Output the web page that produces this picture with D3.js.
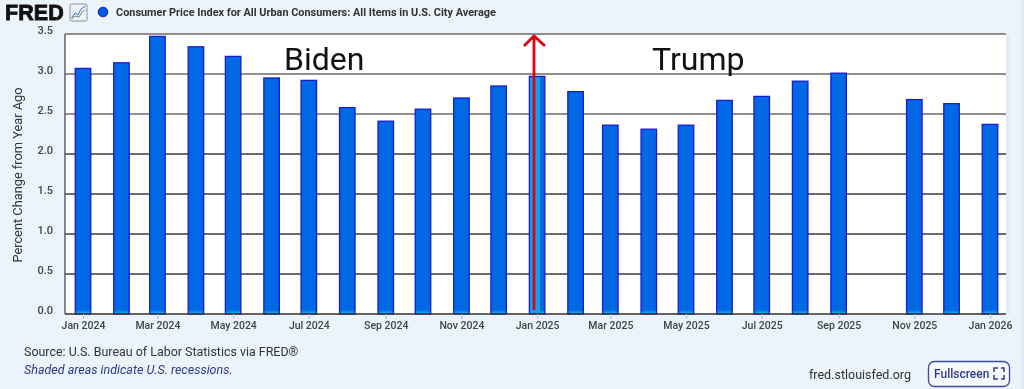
<!DOCTYPE html>
<html><head><meta charset="utf-8">
<script src="https://cdn.jsdelivr.net/npm/d3@7/dist/d3.min.js"></script>
<style>
html,body{margin:0;padding:0;background:#ebf3fb;overflow:hidden}
svg{display:block;font-family:Roboto,sans-serif;filter:blur(0.35px)}
</style></head><body><svg id="c" width="1024" height="389"></svg>
<script>
const months=["2024-01","2024-02","2024-03","2024-04","2024-05","2024-06","2024-07","2024-08","2024-09","2024-10","2024-11","2024-12","2025-01","2025-02","2025-03","2025-04","2025-05","2025-06","2025-07","2025-08","2025-09","2025-10","2025-11","2025-12","2026-01"];
const values=[3.07,3.14,3.47,3.34,3.22,2.95,2.92,2.58,2.41,2.56,2.70,2.85,2.97,2.78,2.36,2.31,2.36,2.67,2.72,2.91,3.01,null,2.68,2.63,2.37];
const yTicks=[0,0.5,1,1.5,2,2.5,3,3.5];
const xTickMonths=["2024-01","2024-03","2024-05","2024-07","2024-09","2024-11","2025-01","2025-03","2025-05","2025-07","2025-09","2025-11","2026-01"];
const seriesName="Consumer Price Index for All Urban Consumers: All Items in U.S. City Average";
const yTitle="Percent Change from Year Ago";
const sourceText="Source: U.S. Bureau of Labor Statistics via FRED®";
const noteText="Shaded areas indicate U.S. recessions.";
const parse=d3.timeParse("%Y-%m");
const svg=d3.select("#c");
const L=65,R=1006,T=34,B=314;
const x=d3.scaleTime().domain([parse("2024-01"),parse("2026-01")]).range([83,990]);
const y=d3.scaleLinear().domain([0,3.5]).range([B,T]);
const grad=svg.append("defs").append("linearGradient").attr("id","barFill").attr("gradientUnits","userSpaceOnUse")
 .attr("x1",0).attr("x2",0).attr("y1",B-4).attr("y2",B);
grad.append("stop").attr("offset",0).attr("stop-color","#0068e4");
grad.append("stop").attr("offset",1).attr("stop-color","#10c0f0");
svg.append("rect").attr("x",1021).attr("y",0).attr("width",3).attr("height",389).attr("fill","#dfeaf7");
svg.append("rect").attr("x",R).attr("y",T).attr("width",4).attr("height",B-T).attr("fill","#dfeaf8");
svg.append("rect").attr("x",L).attr("y",T).attr("width",R-L).attr("height",B-T).attr("fill","#fff");
svg.append("g").selectAll("line").data(yTicks.filter(d=>d>0)).join("line")
 .attr("x1",L).attr("x2",R).attr("y1",d=>y(d)).attr("y2",d=>y(d))
 .attr("stroke",d=>d>=2.5?"#6f6a66":"#3a3a3a").attr("stroke-width",1.6);
svg.append("line").attr("x1",L).attr("x2",L).attr("y1",T).attr("y2",B).attr("stroke","#555").attr("stroke-width",1.4);
const bw=15.5;
svg.append("g").selectAll("rect").data(months.map((m,i)=>({d:parse(m),v:values[i]})).filter(d=>d.v!=null)).join("rect")
 .attr("x",d=>x(d.d)-bw/2).attr("width",bw).attr("y",d=>y(d.v)).attr("height",d=>y(0)-y(d.v))
 .attr("fill","url(#barFill)").attr("stroke","#1b1bd0").attr("stroke-width",1.3);
svg.append("rect").attr("x",530).attr("y",y(values[12])+1).attr("width",10).attr("height",y(0)-y(values[12])-2).attr("fill","#10a0ee");
svg.append("line").attr("x1",L).attr("x2",R).attr("y1",B).attr("y2",B).attr("stroke","#333").attr("stroke-width",1.6);
const xAxis=d3.axisBottom(x).tickValues(xTickMonths.map(parse)).tickFormat(d3.timeFormat("%b %Y")).tickSize(5).tickPadding(3);
const gx=svg.append("g").attr("transform",`translate(0,${B})`).call(xAxis);
gx.select(".domain").remove();
gx.selectAll("line").attr("stroke","#a9b9d6");
gx.selectAll("text").attr("font-family","Roboto,sans-serif").attr("font-size",10.5).attr("font-weight",500).attr("fill","#3d4550");
const yAxis=d3.axisLeft(y).tickValues(yTicks).tickFormat(d3.format(".1f")).tickSize(0).tickPadding(12);
const gy=svg.append("g").attr("transform",`translate(${L},0)`).call(yAxis);
gy.select(".domain").remove();
gy.selectAll("text").attr("font-family","Roboto,sans-serif").attr("font-size",11).attr("font-weight",500).attr("fill","#3d4550").attr("y",-4.5);
svg.append("text").attr("transform","translate(22,175) rotate(-90)").attr("text-anchor","middle")
 .attr("font-size",12.8).attr("fill","#333").text(yTitle);
svg.append("text").attr("x",5).attr("y",20).attr("font-family","Liberation Sans,sans-serif").attr("font-weight",700).attr("font-size",21.5).attr("letter-spacing",0.1).attr("stroke","#111").attr("stroke-width",.8).attr("fill","#111").text("FRED");
const ic=svg.append("g");
ic.append("rect").attr("x",70).attr("y",4).attr("width",17).attr("height",17).attr("rx",1.5).attr("fill","#eef2f6").attr("stroke","#777").attr("stroke-width",.8);
ic.append("path").attr("d","M71.5 18L75 13L78 15L81 9L85.5 6").attr("fill","none").attr("stroke","#3a6fd0");
ic.append("path").attr("d","M71.5 19L75 16L79 17L82 12L85.5 10").attr("fill","none").attr("stroke","#6f8f70");
svg.append("circle").attr("cx",103).attr("cy",12).attr("r",4.8).attr("fill","#0058e0").attr("stroke","#1b1bd0").attr("stroke-width",1);
svg.append("text").attr("x",116).attr("y",15.5).attr("font-size",10.9).attr("font-weight",700).attr("fill","#333").text(seriesName);
svg.append("text").attr("x",284).attr("y",70).attr("font-size",32).attr("fill","#111").text("Biden");
svg.append("text").attr("x",652).attr("y",70).attr("font-size",32).attr("fill","#111").text("Trump");
svg.append("path").attr("d",`M534 ${B-4}V36M524 46L534 36L545 46`).attr("fill","none").attr("stroke","#e00010").attr("stroke-width",2.8);
svg.append("text").attr("x",24).attr("y",356).attr("font-size",12.45).attr("fill","#333").text(sourceText);
svg.append("text").attr("x",24).attr("y",374).attr("font-size",12.5).attr("font-style","italic").attr("fill","#2d3a8c").text(noteText);
svg.append("text").attr("x",809).attr("y",379).attr("font-size",12.5).attr("fill","#333").text("fred.stlouisfed.org");
svg.append("rect").attr("x",928.5).attr("y",361.5).attr("width",81).attr("height",25).attr("rx",6).attr("fill","#f7fafd").attr("stroke","#3f4a96").attr("stroke-width",1.3);
svg.append("text").attr("x",934).attr("y",378).attr("font-size",12).attr("font-weight",500).attr("fill","#2d3a8c").text("Fullscreen");
svg.append("path").attr("d","M994 372V368H998M1001 368H1004V372M1004 375V379H1001M998 379H994V375").attr("fill","none").attr("stroke","#2d3a8c").attr("stroke-width",1.5);
</script></body></html>
